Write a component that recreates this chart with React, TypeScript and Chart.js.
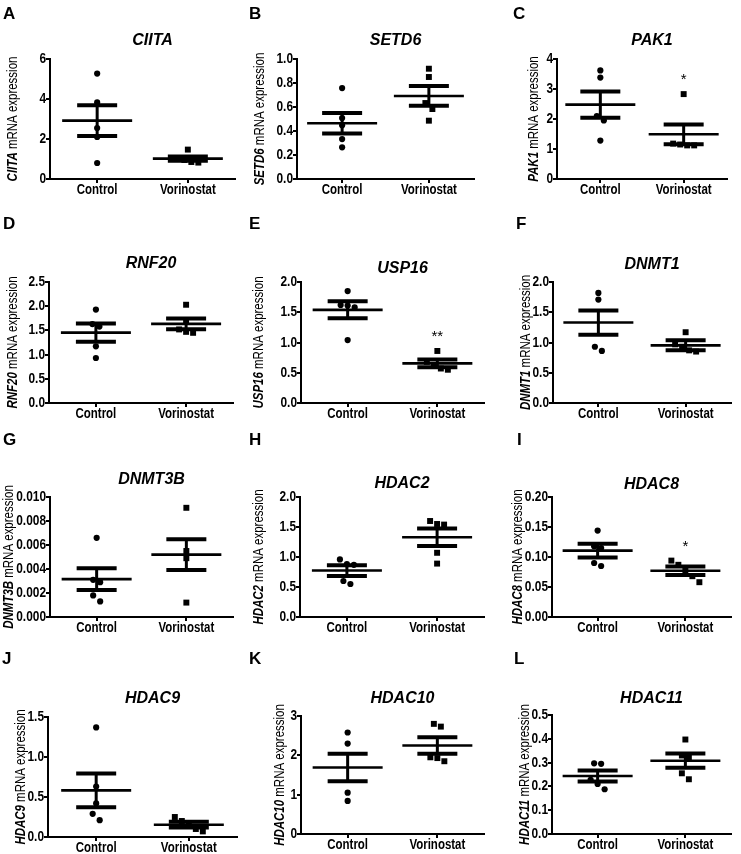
import React, { useEffect, useRef } from "react";
import { Chart, registerables } from "chart.js";
Chart.register(...registerables);

// ---------------- DATA ----------------
const groups = ["Control", "Vorinostat"];
const genes = ["CIITA", "SETD6", "PAK1", "RNF20", "USP16", "DNMT1", "DNMT3B", "HDAC2", "HDAC8", "HDAC9", "HDAC10", "HDAC11"];
const panelLetters = ["A", "B", "C", "D", "E", "F", "G", "H", "I", "J", "K", "L"];

const ciitaControl = [5.27, 3.83, 2.55, 2.1, 0.8];
const ciitaVorinostat = [1.47, 1.05, 0.95, 0.85, 0.82];
const setd6Control = [0.758, 0.508, 0.447, 0.333, 0.264];
const setd6Vorinostat = [0.919, 0.85, 0.633, 0.583, 0.486];
const pak1Control = [3.62, 3.38, 2.1, 1.95, 1.28];
const pak1Vorinostat = [2.83, 1.18, 1.15, 1.12, 1.12];
const rnf20Control = [1.93, 1.63, 1.58, 1.17, 0.93];
const rnf20Vorinostat = [2.03, 1.7, 1.52, 1.47, 1.45];
const usp16Control = [1.85, 1.62, 1.61, 1.58, 1.04];
const usp16Vorinostat = [0.86, 0.68, 0.62, 0.57, 0.55];
const dnmt1Control = [1.82, 1.71, 0.93, 0.86];
const dnmt1Vorinostat = [1.17, 0.97, 0.93, 0.87, 0.85];
const dnmt3bControl = [0.0066, 0.0031, 0.0029, 0.0018, 0.0013];
const dnmt3bVorinostat = [0.0091, 0.0055, 0.0049, 0.0012];
const hdac2Control = [0.96, 0.88, 0.87, 0.6, 0.55];
const hdac2Vorinostat = [1.6, 1.55, 1.54, 1.07, 0.89];
const hdac8Control = [0.144, 0.118, 0.115, 0.09, 0.085];
const hdac8Vorinostat = [0.094, 0.087, 0.078, 0.068, 0.058];
const hdac9Control = [1.37, 0.63, 0.42, 0.29, 0.21];
const hdac9Vorinostat = [0.25, 0.2, 0.14, 0.1, 0.07];
const hdac10Control = [2.58, 2.3, 1.05, 0.84];
const hdac10Vorinostat = [2.8, 2.73, 1.95, 1.93, 1.85];
const hdac11Control = [0.297, 0.295, 0.228, 0.21, 0.188];
const hdac11Vorinostat = [0.397, 0.33, 0.32, 0.255, 0.23];

const meanControl = [2.92, 0.464, 2.48, 1.454, 1.54, 1.33, 0.00316, 0.774, 0.1106, 0.583, 1.69, 0.244];
const semControl = [0.77, 0.085, 0.44, 0.19, 0.14, 0.2, 0.0009, 0.09, 0.0115, 0.21, 0.35, 0.023];
const meanVorinostat = [1.02, 0.692, 1.49, 1.634, 0.655, 0.953, 0.0052, 1.33, 0.0772, 0.154, 2.25, 0.308];
const semVorinostat = [0.11, 0.082, 0.33, 0.11, 0.066, 0.083, 0.00128, 0.145, 0.007, 0.036, 0.21, 0.03];
const significance = ["", "", "*", "", "**", "", "", "", "*", "", "", ""];

const ticksA = [0, 2, 4, 6];
const ticksB = [0, 0.2, 0.4, 0.6, 0.8, 1.0];
const ticksC = [0, 1, 2, 3, 4];
const ticksD = [0, 0.5, 1.0, 1.5, 2.0, 2.5];
const ticksE = [0, 0.5, 1.0, 1.5, 2.0];
const ticksF = [0, 0.5, 1.0, 1.5, 2.0];
const ticksG = [0, 0.002, 0.004, 0.006, 0.008, 0.01];
const ticksH = [0, 0.5, 1.0, 1.5, 2.0];
const ticksI = [0, 0.05, 0.1, 0.15, 0.2];
const ticksJ = [0, 0.5, 1.0, 1.5];
const ticksK = [0, 1, 2, 3];
const ticksL = [0, 0.1, 0.2, 0.3, 0.4, 0.5];
const tickDecimals = [0, 1, 0, 1, 1, 1, 3, 1, 2, 1, 0, 1];

const controlSets = [ciitaControl, setd6Control, pak1Control, rnf20Control, usp16Control, dnmt1Control, dnmt3bControl, hdac2Control, hdac8Control, hdac9Control, hdac10Control, hdac11Control];
const vorinostatSets = [ciitaVorinostat, setd6Vorinostat, pak1Vorinostat, rnf20Vorinostat, usp16Vorinostat, dnmt1Vorinostat, dnmt3bVorinostat, hdac2Vorinostat, hdac8Vorinostat, hdac9Vorinostat, hdac10Vorinostat, hdac11Vorinostat];
const tickSets = [ticksA, ticksB, ticksC, ticksD, ticksE, ticksF, ticksG, ticksH, ticksI, ticksJ, ticksK, ticksL];

// ---------------- LAYOUT ----------------
const colLefts = [0, 247, 494];
const rowTops = [0, 210, 425, 640];
const rowHeights = [210, 215, 215, 214];
const PANEL_W = 247;
const geom = [
  { pl: 50, pr: 235, pt: 59, pb: 179, ty: 41, yt: 13 },
  { pl: 50, pr: 227, pt: 59, pb: 179, ty: 41, yt: 13 },
  { pl: 63, pr: 233, pt: 59, pb: 179, ty: 41, yt: 40 },
  { pl: 49, pr: 233, pt: 72, pb: 193, ty: 54, yt: 13 },
  { pl: 54, pr: 237, pt: 72, pb: 193, ty: 59, yt: 12 },
  { pl: 59, pr: 237, pt: 72, pb: 193, ty: 55, yt: 32 },
  { pl: 50, pr: 233, pt: 72, pb: 192, ty: 55, yt: 9 },
  { pl: 53, pr: 237, pt: 72, pb: 192, ty: 59, yt: 12 },
  { pl: 58, pr: 237, pt: 72, pb: 192, ty: 60, yt: 24 },
  { pl: 48, pr: 237, pt: 77, pb: 197, ty: 59, yt: 21 },
  { pl: 54, pr: 237, pt: 76, pb: 194, ty: 59, yt: 33 },
  { pl: 58, pr: 237, pt: 75, pb: 194, ty: 59, yt: 31 },
];
const letterPos = [[3, 7], [249, 7], [513, 7], [3, 217], [249, 217], [516, 217], [3, 433], [249, 433], [517, 433], [2, 652], [249, 652], [514, 652]];

const SANS = "'Liberation Sans', Arial, sans-serif";
const NARROW_X = 0.82; // horizontal condensing to imitate Arial Narrow
const X_MIN = 0.48;
const X_MAX = 2.52;

function swarm(values: number[], center: number, yPerPx: number, xPerPx: number) {
  const order = values.map((_, i) => i).sort((a, b) => values[b] - values[a]);
  const clusters: number[][] = [];
  const thr = 6.5 * yPerPx;
  for (const i of order) {
    const last = clusters[clusters.length - 1];
    if (last && Math.abs(values[last[last.length - 1]] - values[i]) < thr) last.push(i);
    else clusters.push([i]);
  }
  const out: { x: number; y: number }[] = new Array(values.length);
  for (const c of clusters) {
    c.forEach((idx, k) => {
      const off = (k - (c.length - 1) / 2) * 7 * xPerPx;
      out[idx] = { x: center + off, y: values[idx] };
    });
  }
  return out;
}

function narrowText(ctx: CanvasRenderingContext2D, text: string, x: number, y: number, font: string, align: CanvasTextAlign, baseline: CanvasTextBaseline) {
  ctx.save();
  ctx.translate(x, y);
  ctx.scale(NARROW_X, 1);
  ctx.font = font;
  ctx.textAlign = align;
  ctx.textBaseline = baseline;
  ctx.fillText(text, 0, 0);
  ctx.restore();
}

function Panel({ idx }: { idx: number }) {
  const ref = useRef<HTMLCanvasElement | null>(null);
  const row = Math.floor(idx / 3);
  const col = idx % 3;
  const H = rowHeights[row];
  const g = geom[idx];
  useEffect(() => {
    if (!ref.current) return;
    const ticks = tickSets[idx];
    const yMax = ticks[ticks.length - 1];
    const yPerPx = yMax / (g.pb - g.pt);
    const xPerPx = (X_MAX - X_MIN) / (g.pr - g.pl);
    const ctrlPts = swarm(controlSets[idx], 1, yPerPx, xPerPx);
    const vorPts = swarm(vorinostatSets[idx], 2, yPerPx, xPerPx);
    const means = [meanControl[idx], meanVorinostat[idx]];
    const sems = [semControl[idx], semVorinostat[idx]];
    const dec = tickDecimals[idx];

    const meanSemPlugin = {
      id: "meanSem",
      afterDatasetsDraw(chart: any) {
        const { ctx, scales } = chart;
        ctx.save();
        ctx.strokeStyle = "#000";
        ctx.lineCap = "butt";
        for (let i = 0; i < 2; i++) {
          const x = scales.x.getPixelForValue(i + 1);
          const ym = scales.y.getPixelForValue(means[i]);
          const yu = scales.y.getPixelForValue(means[i] + sems[i]);
          const yl = scales.y.getPixelForValue(means[i] - sems[i]);
          ctx.lineWidth = 3;
          ctx.beginPath();
          ctx.moveTo(x, yu);
          ctx.lineTo(x, yl);
          ctx.stroke();
          ctx.lineWidth = 4;
          ctx.beginPath();
          ctx.moveTo(x - 20, yu);
          ctx.lineTo(x + 20, yu);
          ctx.moveTo(x - 20, yl);
          ctx.lineTo(x + 20, yl);
          ctx.stroke();
          ctx.lineWidth = 2.6;
          ctx.beginPath();
          ctx.moveTo(x - 35, ym);
          ctx.lineTo(x + 35, ym);
          ctx.stroke();
        }
        ctx.restore();
      },
    };

    const textPlugin = {
      id: "texts",
      afterDraw(chart: any) {
        const { ctx, chartArea, scales } = chart;
        ctx.save();
        ctx.fillStyle = "#000";
        // y tick labels
        for (const t of scales.y.ticks) {
          narrowText(ctx, Number(t.value).toFixed(dec), chartArea.left - 4, scales.y.getPixelForValue(t.value), `bold 14.5px ${SANS}`, "right", "middle");
        }
        // x tick labels
        for (const t of scales.x.ticks) {
          narrowText(ctx, groups[Math.round(t.value) - 1], scales.x.getPixelForValue(t.value), chartArea.bottom + 15, `bold 14px ${SANS}`, "center", "alphabetic");
        }
        // title
        ctx.font = `italic bold 16px ${SANS}`;
        ctx.textAlign = "center";
        ctx.textBaseline = "middle";
        ctx.fillText(genes[idx], (chartArea.left + chartArea.right) / 2 + 10, g.ty);
        // significance
        const sig = significance[idx];
        if (sig) {
          ctx.font = `15px ${SANS}`;
          const top = Math.max(...vorinostatSets[idx]);
          ctx.fillText(sig, scales.x.getPixelForValue(2), scales.y.getPixelForValue(top) - 14);
        }
        // y title (mixed fonts)
        const cy = (chartArea.top + chartArea.bottom) / 2;
        ctx.translate(g.yt, cy);
        ctx.rotate(-Math.PI / 2);
        ctx.scale(NARROW_X, 1);
        const f1 = `italic bold 14px ${SANS}`;
        const f2 = `14px ${SANS}`;
        const t1 = genes[idx];
        const t2 = " mRNA expression";
        ctx.font = f1;
        const w1 = ctx.measureText(t1).width;
        ctx.font = f2;
        const w2 = ctx.measureText(t2).width;
        const sx = -(w1 + w2) / 2;
        ctx.textAlign = "left";
        ctx.font = f1;
        ctx.fillText(t1, sx, 0);
        ctx.font = f2;
        ctx.fillText(t2, sx + w1, 0);
        ctx.restore();
      },
    };

    const axisCommon = {
      grid: { display: true, drawOnChartArea: false, drawTicks: true, tickLength: 4, tickWidth: 2, tickColor: "#000", color: "#000", lineWidth: 2 },
      border: { display: true, width: 2, color: "#000" },
    };

    const chart = new Chart(ref.current, {
      type: "scatter",
      data: {
        datasets: [
          { label: groups[0], data: ctrlPts, pointStyle: "circle", pointRadius: 3.1, pointHoverRadius: 3.1, backgroundColor: "#000", borderColor: "#000", borderWidth: 0 },
          { label: groups[1], data: vorPts, pointStyle: "rect", pointRadius: 4.2, pointHoverRadius: 4.2, backgroundColor: "#000", borderColor: "#000", borderWidth: 0 },
        ],
      },
      options: {
        animation: false,
        responsive: false,
        maintainAspectRatio: false,
        events: [],
        layout: { padding: { left: 0, right: PANEL_W - g.pr, top: g.pt, bottom: 0 } },
        plugins: { legend: { display: false }, tooltip: { enabled: false }, title: { display: false } },
        scales: {
          x: {
            type: "linear",
            min: X_MIN,
            max: X_MAX,
            afterBuildTicks: (s: any) => { s.ticks = [{ value: 1 }, { value: 2 }]; },
            afterFit: (s: any) => { s.height = H - g.pb; },
            ticks: { display: false },
            ...axisCommon,
          },
          y: {
            min: 0,
            max: yMax,
            afterBuildTicks: (s: any) => { s.ticks = ticks.map((v) => ({ value: v })); },
            afterFit: (s: any) => { s.width = g.pl; },
            ticks: { display: false },
            ...axisCommon,
          },
        },
      } as any,
      plugins: [meanSemPlugin, textPlugin],
    });
    return () => chart.destroy();
  }, [idx]);

  return (
    <canvas
      ref={ref}
      width={PANEL_W}
      height={H}
      style={{ position: "absolute", left: colLefts[col], top: rowTops[row], width: PANEL_W, height: H }}
    />
  );
}

export default function App() {
  return (
    <div style={{ position: "absolute", left: 0, top: 0, width: 741, height: 854, background: "#fff", overflow: "hidden" }}>
      {genes.map((_, i) => (
        <Panel key={i} idx={i} />
      ))}
      {panelLetters.map((l, i) => (
        <div
          key={"l" + i}
          style={{
            position: "absolute",
            left: letterPos[i][0],
            top: letterPos[i][1] - 2.2,
            font: `bold 17px ${SANS}`,
            lineHeight: "17px",
            color: "#000",
          }}
        >
          {l}
        </div>
      ))}
    </div>
  );
}
